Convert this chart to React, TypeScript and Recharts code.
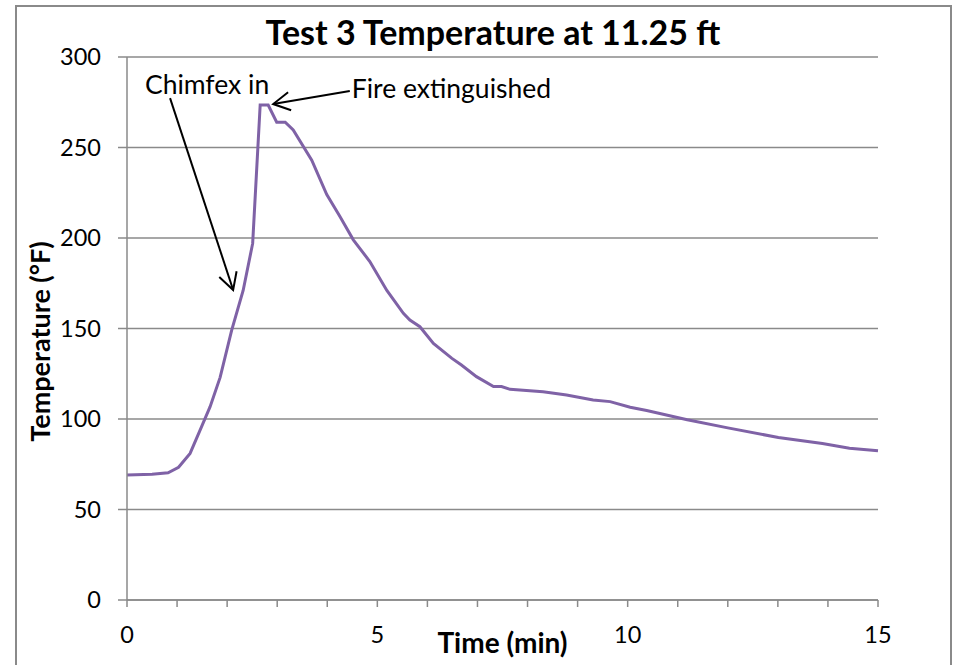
import {
  CartesianGrid,
  Line,
  LineChart,
  ReferenceLine,
  XAxis,
  YAxis,
} from 'recharts'

// time (min) and temperature (°F)
const times = [
  0, 0.5, 0.82, 1.03, 1.26, 1.49, 1.66, 1.86, 2.09, 2.32, 2.51, 2.66, 2.82,
  2.99, 3.16, 3.32, 3.69, 3.99, 4.25, 4.52, 4.85, 5.19, 5.52, 5.65, 5.85, 6.12,
  6.49, 6.68, 6.98, 7.32, 7.48, 7.65, 8.31, 8.78, 9.31, 9.65, 10.05, 10.38,
  11.19, 12.0, 13.01, 13.89, 14.43, 15.0,
]
const temps = [
  69, 69.5, 70.3, 73.3, 81, 95.8, 106.8, 123, 149, 171, 197, 273.5, 273.5, 264,
  264, 259.7, 243, 224, 212, 199, 187, 171, 158.4, 154.7, 151, 141.8, 133.5,
  129.8, 123.4, 117.9, 117.9, 116.4, 115, 113.3, 110.5, 109.6, 106.5, 104.7,
  99.6, 95.1, 89.8, 86.5, 83.9, 82.5,
]

const xTicks = [0, 1, 2, 3, 4, 5, 6, 7, 8, 9, 10, 11, 12, 13, 14, 15]
const yTicks = [0, 50, 100, 150, 200, 250, 300]

// annotation arrows: [start, tip] in data units
const chimfexArrow = [
  { x: 0.86, y: 277.3 },
  { x: 2.12, y: 171.3 },
]
const fireArrow = [
  { x: 4.45, y: 281.2 },
  { x: 2.92, y: 274 },
]

const FONT = 'Lato, "Open Sans", sans-serif'
const GRID = '#8a8a8a'
const PURPLE = '#7f62a6'

type ArrowProps = {
  x1?: number
  y1?: number
  x2?: number
  y2?: number
}

function arrowShape(text: string, dx: number, dy: number, anchor: 'start' | 'middle') {
  return (p: ArrowProps) => {
    const x1 = Number(p.x1)
    const y1 = Number(p.y1)
    const x2 = Number(p.x2)
    const y2 = Number(p.y2)
    const ang = Math.atan2(y1 - y2, x1 - x2)
    const len = 19
    const spread = 0.5
    const a1 = ang + spread
    const a2 = ang - spread
    return (
      <g>
        <line x1={x1} y1={y1} x2={x2} y2={y2} stroke="#000" strokeWidth={2} />
        <polyline
          points={`${x2 + len * Math.cos(a1)},${y2 + len * Math.sin(a1)} ${x2},${y2} ${
            x2 + len * Math.cos(a2)
          },${y2 + len * Math.sin(a2)}`}
          fill="none"
          stroke="#000"
          strokeWidth={2}
        />
        <text x={x1 + dx} y={y1 + dy} textAnchor={anchor} fontSize={26.5} fill="#000">
          {text}
        </text>
      </g>
    )
  }
}

export default function App() {
  const data = times.map((t, i) => ({ t, temp: temps[i] }))

  return (
    <div
      style={{
        position: 'absolute',
        left: 0,
        top: 0,
        width: 961,
        height: 665,
        background: '#fff',
        fontFamily: FONT,
        overflow: 'hidden',
      }}
    >
      <LineChart
        width={961}
        height={665}
        data={data}
        margin={{ top: 57, right: 83, left: 0, bottom: 0 }}
      >
        <CartesianGrid stroke={GRID} strokeWidth={1.5} vertical={false} />
        <XAxis
          dataKey="t"
          type="number"
          domain={[0, 15]}
          ticks={xTicks}
          interval={0}
          height={65}
          tickSize={7}
          tickMargin={19}
          tickFormatter={(v: number) => (v % 5 === 0 ? String(v) : '')}
          tick={{ fontSize: 23.5, fill: '#000' }}
          axisLine={{ stroke: GRID, strokeWidth: 1.5 }}
          tickLine={{ stroke: GRID, strokeWidth: 1.5 }}
          label={{
            value: 'Time (min)',
            position: 'insideBottom',
            offset: 12,
            fontSize: 28,
            fontWeight: 700,
            fill: '#000',
          }}
        />
        <YAxis
          type="number"
          domain={[0, 300]}
          ticks={yTicks}
          interval={0}
          width={127}
          tickSize={9}
          tickMargin={17}
          tick={{ fontSize: 23.5, fill: '#000' }}
          axisLine={{ stroke: GRID, strokeWidth: 1.5 }}
          tickLine={{ stroke: GRID, strokeWidth: 1.5 }}
          label={{
            value: 'Temperature (°F)',
            angle: -90,
            position: 'insideLeft',
            offset: 0,
            content: (props: any) => {
              const vb = props.viewBox || {}
              const cx = (vb.x ?? 0) + 39
              const cy = (vb.y ?? 0) + (vb.height ?? 0) / 2 + 13
              return (
                <text
                  x={cx}
                  y={cy}
                  transform={`rotate(-90 ${cx} ${cy})`}
                  textAnchor="middle"
                  dominantBaseline="central"
                  fontSize={27}
                  fontWeight={700}
                  fill="#000"
                >
                  Temperature (°F)
                </text>
              )
            },
          }}
        />
        <Line
          dataKey="temp"
          type="linear"
          stroke={PURPLE}
          strokeWidth={3}
          dot={false}
          isAnimationActive={false}
        />
        <ReferenceLine
          segment={chimfexArrow}
          shape={arrowShape('Chimfex in', 37, -4, 'middle')}
        />
        <ReferenceLine
          segment={fireArrow}
          shape={arrowShape('Fire extinguished', 2, 7, 'start')}
        />
      </LineChart>
      <svg
        width={961}
        height={665}
        style={{ position: 'absolute', left: 0, top: 0, pointerEvents: 'none' }}
      >
        <rect x={16} y={6} width={935} height={720} fill="none" stroke={GRID} strokeWidth={2} />
        <text x={493} y={45} textAnchor="middle" fontSize={34} fontWeight={700} fill="#000">
          Test 3 Temperature at 11.25 ft
        </text>
      </svg>
    </div>
  )
}
